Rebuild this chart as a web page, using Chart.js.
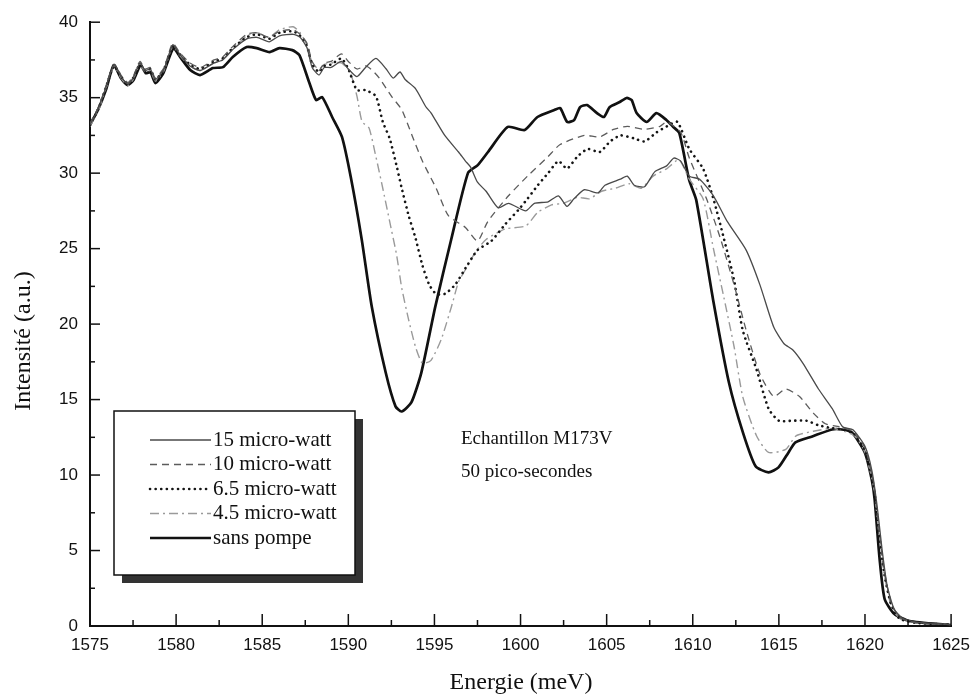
<!DOCTYPE html>
<html>
<head>
<meta charset="utf-8">
<script src="https://cdn.jsdelivr.net/npm/chart.js@4/dist/chart.umd.min.js"></script>
<style>
  html,body{margin:0;padding:0;background:#fff}
  #wrap{width:979px;height:700px;position:relative}
</style>
</head>
<body>
<div id="wrap"><canvas id="spectre"></canvas></div>
<script>
'use strict'

// Energie (meV) / Intensite (a.u.)
const x15 = [1575,1575.5,1575.9,1576.4,1576.8,1577.2,1577.5,1577.9,1578.2,1578.5,1578.8,1579.3,1579.8,1580.2,1580.8,1581.4,1582.2,1582.7,1583.3,1584.1,1584.7,1585.4,1586,1586.8,1587.2,1587.6,1587.9,1588.3,1588.6,1589,1589.6,1590,1590.5,1591,1591.6,1592.2,1592.6,1593,1593.3,1593.9,1594.5,1594.8,1595.6,1596.4,1596.8,1597.1,1597.5,1598,1598.7,1599.3,1600.3,1600.8,1601.6,1602.2,1602.7,1603.1,1603.7,1604.5,1604.9,1605.8,1606.2,1606.6,1607.2,1607.8,1608.5,1608.9,1609.3,1609.8,1610.4,1611.2,1612,1613.1,1613.9,1614.7,1615.3,1615.8,1616.4,1617.3,1618.1,1618.7,1619.3,1620,1620.4,1620.7,1621,1621.3,1621.7,1622.2,1623,1625]
const y15 = [33.2,34.3,35.6,37.2,36.4,35.9,36.3,37.3,36.8,36.9,36.2,36.9,38.5,37.9,37.1,36.8,37.3,37.5,38.2,38.9,39.0,38.7,39.1,39.2,39.0,38.3,37.0,36.5,37.0,37.0,37.4,36.9,36.4,37.0,37.6,36.9,36.3,36.7,36.2,35.6,34.4,34.0,32.5,31.4,30.8,30.4,29.4,28.8,27.7,28.0,27.5,28.0,28.1,28.5,27.8,28.3,28.9,28.7,29.2,29.6,29.8,29.2,29.1,30.1,30.5,31.0,30.8,29.8,29.6,28.5,26.8,24.9,22.6,19.8,18.7,18.3,17.4,15.7,14.4,13.2,13.0,11.9,10.3,8.0,5.0,2.6,1.1,0.5,0.25,0.1]

const x10 = [1575,1575.5,1575.9,1576.4,1576.8,1577.2,1577.5,1577.9,1578.2,1578.5,1578.8,1579.3,1579.8,1580.2,1580.8,1581.4,1582.2,1582.7,1583.3,1584.1,1584.7,1585.4,1586,1586.8,1587.2,1587.6,1587.9,1588.3,1588.6,1589,1589.6,1590,1590.5,1591,1591.4,1591.8,1592.5,1593.1,1593.7,1594.3,1595.1,1595.8,1596.8,1597.5,1598.1,1599.3,1600.4,1601.6,1602.3,1603.7,1604.6,1605.4,1606.2,1607.2,1608.1,1608.5,1609.3,1609.8,1610.8,1611.6,1612.4,1613.1,1613.9,1614.7,1615.4,1616.2,1617,1617.7,1618.5,1619.3,1620,1620.5,1620.8,1621.1,1621.5,1622,1623,1625]
const y10 = [33.3,34.4,35.7,37.2,36.5,36.0,36.4,37.4,36.9,37.0,36.3,37.0,38.6,38.0,37.3,37.0,37.5,37.7,38.4,39.2,39.3,39.0,39.4,39.5,39.2,38.6,37.4,36.8,37.3,37.4,37.9,37.4,36.9,37.1,36.8,36.3,35.1,34.2,32.5,30.8,29.0,27.2,26.4,25.5,26.8,28.5,29.8,31.1,31.9,32.5,32.4,32.9,33.1,32.9,33.1,33.4,32.7,31.0,28.3,25.7,22.6,19.6,16.7,15.2,15.7,15.2,14.1,13.4,13.2,12.9,11.8,9.5,6.5,3.8,1.6,0.6,0.2,0.1]

const x65 = [1575,1575.5,1575.9,1576.4,1576.8,1577.2,1577.5,1577.9,1578.2,1578.5,1578.8,1579.3,1579.8,1580.2,1580.8,1581.4,1582.2,1582.7,1583.3,1584.1,1584.7,1585.4,1586,1586.8,1587.2,1587.6,1587.9,1588.3,1588.6,1589,1589.6,1590,1590.5,1591,1591.6,1592,1592.4,1592.8,1593.1,1593.5,1593.9,1594.3,1594.7,1595.1,1595.6,1596.2,1596.8,1597.5,1598.3,1599.1,1599.9,1600.4,1601,1601.6,1602.2,1602.7,1603.3,1603.9,1604.6,1605.2,1605.8,1606.6,1607.2,1607.9,1608.5,1609.1,1609.8,1610.6,1611.2,1611.8,1612.4,1612.9,1613.7,1614.4,1615,1615.8,1616.6,1617.3,1618.1,1618.8,1619.4,1620,1620.5,1620.8,1621.1,1621.5,1622,1623,1625]
const y65 = [33.2,34.3,35.6,37.1,36.4,35.9,36.3,37.2,36.8,36.9,36.2,36.9,38.4,37.9,37.2,36.9,37.4,37.6,38.3,39.0,39.2,38.9,39.3,39.4,39.1,38.4,37.2,36.7,37.1,37.2,37.6,36.9,35.5,35.5,35.1,33.4,32.3,30.5,29.0,27.2,25.7,23.9,22.6,22.0,22.0,22.6,23.7,24.9,25.5,26.6,27.6,28.3,29.2,30.0,30.8,30.3,31.1,31.6,31.4,32.1,32.5,32.3,32.1,32.7,33.1,33.4,31.6,30.3,28.3,25.7,22.9,19.6,17.0,14.4,13.6,13.6,13.6,13.3,13.1,13.0,12.7,11.6,9.3,6.3,3.6,1.5,0.5,0.2,0.1]

const x45 = [1575,1575.5,1575.9,1576.4,1576.8,1577.2,1577.5,1577.9,1578.2,1578.5,1578.8,1579.3,1579.8,1580.2,1580.8,1581.4,1582.2,1582.7,1583.3,1584.1,1584.7,1585.4,1586,1586.8,1587.2,1587.6,1587.9,1588.3,1588.6,1589,1589.6,1590.1,1590.5,1590.8,1591.2,1591.6,1592,1592.4,1592.8,1593.1,1593.5,1593.9,1594.3,1594.8,1595.4,1596,1596.4,1596.8,1597.4,1598,1599.1,1600.3,1601,1601.8,1602.5,1603.3,1604,1604.7,1605.5,1606.3,1607,1607.7,1608.5,1609.2,1609.8,1610.6,1611.2,1611.8,1612.4,1612.9,1613.7,1614.4,1615.4,1616,1617,1618.1,1618.8,1619.4,1620,1620.5,1620.8,1621.1,1621.5,1622,1623,1625]
const y45 = [33.1,34.2,35.5,37.1,36.3,35.8,36.2,37.2,36.7,36.8,36.1,36.8,38.4,37.8,37.1,36.8,37.3,37.5,38.2,39.1,39.3,39.0,39.5,39.7,39.3,38.5,37.3,36.9,37.2,37.3,37.3,36.7,35.1,33.4,33.0,31.1,29.0,26.8,24.6,22.4,20.3,18.5,17.4,17.6,19.0,21.2,22.8,23.6,24.8,25.6,26.3,26.5,27.4,27.9,28.0,28.4,28.3,28.8,29.0,29.3,29.0,29.8,30.3,30.9,29.6,28.3,25.0,21.8,18.5,15.2,12.6,11.5,11.7,12.6,12.9,13.1,12.9,12.6,11.5,9.2,6.2,3.5,1.4,0.5,0.2,0.1]

const xSans = [1575,1575.46,1575.92,1576.38,1576.79,1577.19,1577.53,1577.94,1578.23,1578.51,1578.8,1579.26,1579.84,1580.24,1580.82,1581.39,1582.14,1582.72,1583.29,1584.1,1584.68,1585.43,1586,1586.75,1587.16,1587.74,1588.13,1588.48,1589.06,1589.63,1590.15,1590.78,1591.36,1592.17,1592.74,1593.09,1593.66,1594.24,1595.05,1595.97,1596.95,1597.53,1598.11,1599.26,1600.24,1600.98,1601.96,1602.3,1602.71,1603.11,1603.46,1603.86,1604.44,1604.84,1605.18,1605.76,1606.16,1606.45,1606.74,1607.32,1607.89,1608.47,1608.87,1609.22,1609.79,1610.2,1611.18,1612.1,1612.91,1613.65,1614.4,1614.98,1615.56,1615.96,1616.94,1618.09,1618.66,1619.24,1619.99,1620.39,1620.56,1620.85,1621.14,1621.71,1622.58,1624.88]
const ySans = [33.19,34.18,35.5,37.16,36.3,35.83,36.17,37.16,36.63,36.69,35.97,36.63,38.28,37.69,36.83,36.5,36.96,37.02,37.69,38.35,38.28,38.02,38.28,38.15,37.82,35.97,34.84,35.04,33.72,32.4,29.69,25.59,21.16,16.79,14.55,14.21,14.81,16.79,21.16,25.59,30.02,30.55,31.4,33.06,32.86,33.72,34.18,34.31,33.39,33.52,34.38,34.51,33.98,33.72,34.38,34.71,34.98,34.84,33.98,33.39,33.98,33.52,33.06,32.66,29.55,28.23,21.62,16.13,12.83,10.58,10.18,10.51,11.5,12.17,12.56,13.02,13.02,12.83,11.5,9.72,8.4,4.43,1.79,0.79,0.33,0.07]

const nomsSeries = ['15 micro-watt','10 micro-watt','6.5 micro-watt','4.5 micro-watt','sans pompe']
const xTicks = [1575,1580,1585,1590,1595,1600,1605,1610,1615,1620,1625]
const yTicks = [0,5,10,15,20,25,30,35,40]

function pts(xs, ys){
  return xs.map((x,i) => ({x:x, y:ys[i]}))
}

const serif = "'Liberation Serif','Times New Roman',serif"
const sans = "'Liberation Sans',Arial,sans-serif"

const datasets = [
  {label:nomsSeries[0], data:pts(x15,y15), borderColor:'#4a4a4a', borderWidth:1.3},
  {label:nomsSeries[1], data:pts(x10,y10), borderColor:'#5c5c5c', borderWidth:1.3, borderDash:[7,5]},
  {label:nomsSeries[2], data:pts(x65,y65), borderColor:'#151515', borderWidth:2.6, borderDash:[0.1,5.5], borderCapStyle:'round'},
  {label:nomsSeries[3], data:pts(x45,y45), borderColor:'#9a9a9a', borderWidth:1.4, borderDash:[9,4,2,4]},
  {label:nomsSeries[4], data:pts(xSans,ySans), borderColor:'#111', borderWidth:2.7}
]
datasets.forEach(d => { d.showLine = true; d.pointRadius = 0; d.tension = 0.2; d.fill = false })

// ticks vers l'interieur, titres, legende ombree et annotation
const decor = {
  id:'decor',
  afterDraw(chart){
    const ctx = chart.ctx
    const xs = chart.scales.x, ys = chart.scales.y
    const a = chart.chartArea
    ctx.save()
    ctx.strokeStyle = '#111'
    ctx.lineWidth = 1.5
    for(let v=1575; v<=1625; v+=2.5){
      const px = xs.getPixelForValue(v)
      const len = (v % 5 === 0) ? 12 : 6
      ctx.beginPath(); ctx.moveTo(px, a.bottom); ctx.lineTo(px, a.bottom-len); ctx.stroke()
    }
    for(let v=0; v<=40; v+=2.5){
      const py = ys.getPixelForValue(v)
      const len = (v % 5 === 0) ? 10 : 5
      ctx.beginPath(); ctx.moveTo(a.left, py); ctx.lineTo(a.left+len, py); ctx.stroke()
    }

    ctx.fillStyle = '#111'
    ctx.font = '24px ' + serif
    ctx.textAlign = 'center'; ctx.textBaseline = 'middle'
    ctx.fillText('Energie (meV)', 521, 683)
    ctx.save()
    ctx.translate(24, 341); ctx.rotate(-Math.PI/2)
    ctx.fillText('Intensité (a.u.)', 0, 0)
    ctx.restore()

    ctx.font = '19px ' + serif
    ctx.textAlign = 'left'; ctx.textBaseline = 'alphabetic'
    ctx.fillText('Echantillon M173V', 461, 444)
    ctx.fillText('50 pico-secondes', 461, 477)

    // legende
    const bx = 114, by = 411, bw = 241, bh = 164
    ctx.fillStyle = '#333'
    ctx.fillRect(bx+8, by+8, bw, bh)
    ctx.fillStyle = '#fff'
    ctx.fillRect(bx, by, bw, bh)
    ctx.strokeStyle = '#111'; ctx.lineWidth = 1.5
    ctx.strokeRect(bx, by, bw, bh)
    ctx.font = '21px ' + serif
    ctx.textBaseline = 'middle'
    chart.data.datasets.forEach((d,i) => {
      const yy = 440 + i*24.5
      ctx.save()
      ctx.strokeStyle = d.borderColor
      ctx.lineWidth = d.borderWidth
      ctx.lineCap = d.borderCapStyle || 'butt'
      ctx.setLineDash(d.borderDash || [])
      ctx.beginPath(); ctx.moveTo(150, yy); ctx.lineTo(211, yy); ctx.stroke()
      ctx.restore()
      ctx.fillStyle = '#111'
      ctx.fillText(d.label, 213, yy)
    })
    ctx.restore()
  }
}

new Chart(document.querySelector('#spectre'), {
  type:'scatter',
  data:{datasets:datasets},
  options:{
    responsive:true,
    maintainAspectRatio:false,
    animation:false,
    layout:{padding:{top:22, right:22, left:0, bottom:0}},
    plugins:{legend:{display:false}, tooltip:{enabled:false}},
    scales:{
      x:{
        type:'linear', min:1575, max:1625,
        afterFit(s){ s.height = 74 },
        afterBuildTicks(s){ s.ticks = xTicks.map(v => ({value:v})) },
        grid:{display:false, drawTicks:false},
        border:{display:true, color:'#111', width:2},
        ticks:{color:'#111', padding:9, maxRotation:0, font:{family:sans, size:17}, callback:v => String(v)}
      },
      y:{
        type:'linear', min:0, max:40,
        afterFit(s){ s.width = 90 },
        afterBuildTicks(s){ s.ticks = yTicks.map(v => ({value:v})) },
        grid:{display:false, drawTicks:false},
        border:{display:true, color:'#111', width:2},
        ticks:{color:'#111', padding:12, font:{family:sans, size:17}, callback:v => String(v)}
      }
    }
  },
  plugins:[decor]
})
</script>
</body>
</html>
